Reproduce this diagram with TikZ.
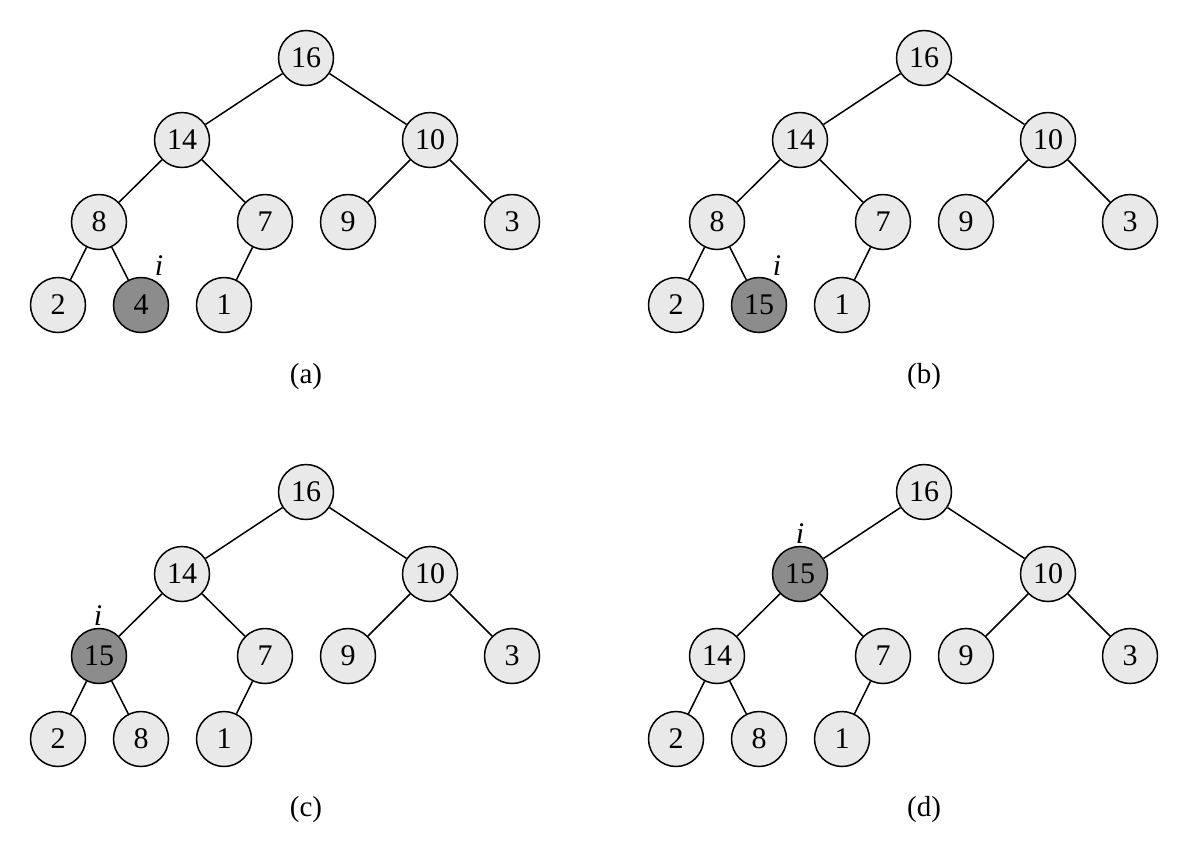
\documentclass[tikz,border=0pt]{standalone}
\usepackage{fontspec}
\setmainfont{Liberation Serif}
\definecolor{lightnode}{RGB}{233,233,233}
\definecolor{darknode}{RGB}{140,140,140}
\begin{document}
\begin{tikzpicture}[x=1pt,y=-1pt,
  hn/.style={circle,draw,line width=1.5pt,fill=lightnode,minimum size=55pt,inner sep=0pt,font=\fontsize{30}{30}\selectfont},
  hd/.style={hn,fill=darknode},
  ed/.style={line width=1.5pt},
  lab/.style={font=\fontsize{30}{30}\selectfont\itshape},
  captxt/.style={font=\fontsize{29}{29}\selectfont}]
\useasboundingbox (0,0) rectangle (1190,844);
% (a)
\node[hn] (a16) at (306,58) {16};
\node[hn] (a14) at (182,140) {14};
\node[hn] (a10) at (430,140) {10};
\node[hn] (a8) at (99,222) {8};
\node[hn] (a7) at (265,222) {7};
\node[hn] (a9) at (348,222) {9};
\node[hn] (a3) at (512,222) {3};
\node[hn] (a2) at (58,305) {2};
\node[hd] (a4) at (141,305) {4};
\node[hn] (a1) at (224,305) {1};
\draw[ed] (a16)--(a14) (a16)--(a10) (a14)--(a8) (a14)--(a7) (a10)--(a9) (a10)--(a3) (a8)--(a2) (a8)--(a4) (a7)--(a1);
\node[lab] (ai) at (159,266) {i};
\node[captxt] (acap) at (306,377) {(a)};
% (b)
\node[hn] (b16) at (924,58) {16};
\node[hn] (b14) at (800,140) {14};
\node[hn] (b10) at (1048,140) {10};
\node[hn] (b8) at (717,222) {8};
\node[hn] (b7) at (883,222) {7};
\node[hn] (b9) at (966,222) {9};
\node[hn] (b3) at (1130,222) {3};
\node[hn] (b2) at (676,305) {2};
\node[hd] (b15) at (759,305) {15};
\node[hn] (b1) at (842,305) {1};
\draw[ed] (b16)--(b14) (b16)--(b10) (b14)--(b8) (b14)--(b7) (b10)--(b9) (b10)--(b3) (b8)--(b2) (b8)--(b15) (b7)--(b1);
\node[lab] (bi) at (777,266) {i};
\node[captxt] (bcap) at (924,377) {(b)};
% (c)
\node[hn] (c16) at (306,492) {16};
\node[hn] (c14) at (182,574) {14};
\node[hn] (c10) at (430,574) {10};
\node[hd] (c15) at (99,656) {15};
\node[hn] (c7) at (265,656) {7};
\node[hn] (c9) at (348,656) {9};
\node[hn] (c3) at (512,656) {3};
\node[hn] (c2) at (58,739) {2};
\node[hn] (c8) at (141,739) {8};
\node[hn] (c1) at (224,739) {1};
\draw[ed] (c16)--(c14) (c16)--(c10) (c14)--(c15) (c14)--(c7) (c10)--(c9) (c10)--(c3) (c15)--(c2) (c15)--(c8) (c7)--(c1);
\node[lab] (ci) at (98,616) {i};
\node[captxt] (ccap) at (306,810) {(c)};
% (d)
\node[hn] (d16) at (924,492) {16};
\node[hd] (d15) at (800,574) {15};
\node[hn] (d10) at (1048,574) {10};
\node[hn] (d14) at (717,656) {14};
\node[hn] (d7) at (883,656) {7};
\node[hn] (d9) at (966,656) {9};
\node[hn] (d3) at (1130,656) {3};
\node[hn] (d2) at (676,739) {2};
\node[hn] (d8) at (759,739) {8};
\node[hn] (d1) at (842,739) {1};
\draw[ed] (d16)--(d15) (d16)--(d10) (d15)--(d14) (d15)--(d7) (d10)--(d9) (d10)--(d3) (d14)--(d2) (d14)--(d8) (d7)--(d1);
\node[lab] (di) at (800,534) {i};
\node[captxt] (dcap) at (924,810) {(d)};
\end{tikzpicture}
\end{document}
